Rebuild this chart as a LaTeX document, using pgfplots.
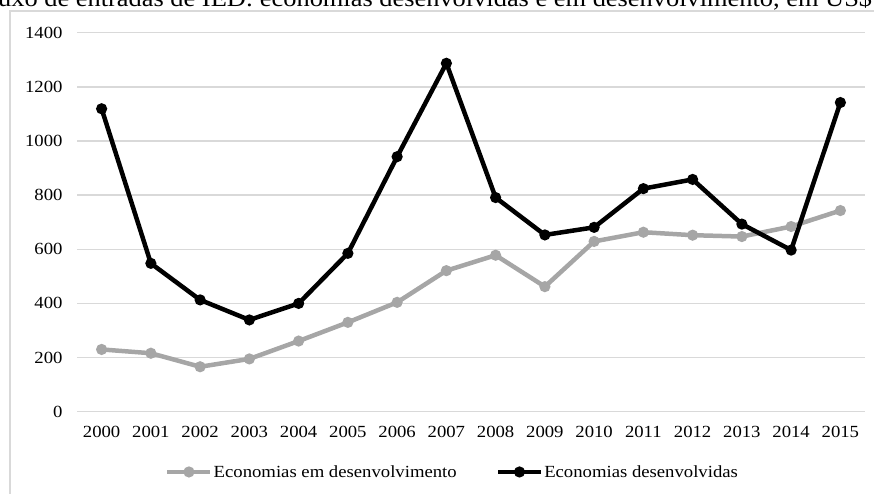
\documentclass[border=0pt]{standalone}
\usepackage{fontspec}
\setmainfont{Liberation Serif}[FakeStretch=1.1]
\usepackage{pgfplots}
\pgfplotsset{compat=1.18}
\definecolor{gridgray}{HTML}{D9D9D9}
\definecolor{devgray}{HTML}{A6A6A6}

\begin{document}
\begin{tikzpicture}
\useasboundingbox (0pt,0pt) rectangle (874pt,493pt);
\draw[gridgray, line width=1.5pt] (10pt,-20pt) -- (10pt,482pt) -- (900pt,482pt);
\node[anchor=base west, font=\fontsize{24}{28}\selectfont, inner sep=0pt] at (-2pt,486pt)
  {\llap{Fl}uxo de entradas de IED: economias desenvolvidas e em desenvolvimento, em US\$ bilhões};
\begin{axis}[
  at={(77pt,81.3pt)}, anchor=south west, scale only axis,
  width=788pt, height=379pt,
  xmin=-0.5, xmax=15.5, ymin=0, ymax=1400,
  xtick={0,...,15},
  xticklabels={2000,2001,2002,2003,2004,2005,2006,2007,2008,2009,2010,2011,2012,2013,2014,2015},
  ytick={0,200,...,1400},
  ymajorgrids, grid style={gridgray, line width=1.5pt},
  axis line style={draw=none},
  major tick length=0pt,
  tick label style={font=\fontsize{17}{20}\selectfont},
  /pgf/number format/assume math mode=true,
  /pgf/number format/set thousands separator={},
  yticklabel style={xshift=-11pt},
  xticklabel style={yshift=-10.5pt},
  clip=false,
  legend columns=2,
  legend style={draw=none, fill=none, at={(0.476,-0.159)}, anchor=center,
    font=\fontsize{17}{20}\selectfont,
    nodes={inner sep=1pt},
    /tikz/every even column/.append style={column sep=38pt}},
  legend image code/.code={
    \draw[#1,mark=none] (0pt,0pt) -- (43pt,0pt);
    \draw[#1,only marks] plot coordinates {(21.5pt,0pt)};
  },
]
\addplot[devgray, line width=4.5pt, mark=*, mark size=3.2pt, mark options={solid, fill=devgray}]
  coordinates {(0,230) (1,216) (2,166) (3,195) (4,261) (5,330) (6,404) (7,521)
               (8,578) (9,462) (10,629) (11,663) (12,652) (13,647) (14,684) (15,743)};
\addlegendentry{Economias em desenvolvimento}
\addplot[black, line width=4.5pt, mark=*, mark size=3.2pt, mark options={solid, fill=black}]
  coordinates {(0,1119) (1,548) (2,413) (3,339) (4,400) (5,585) (6,942) (7,1287)
               (8,791) (9,653) (10,681) (11,824) (12,858) (13,693) (14,597) (15,1142)};
\addlegendentry{Economias desenvolvidas}
\end{axis}
\end{tikzpicture}
\end{document}
